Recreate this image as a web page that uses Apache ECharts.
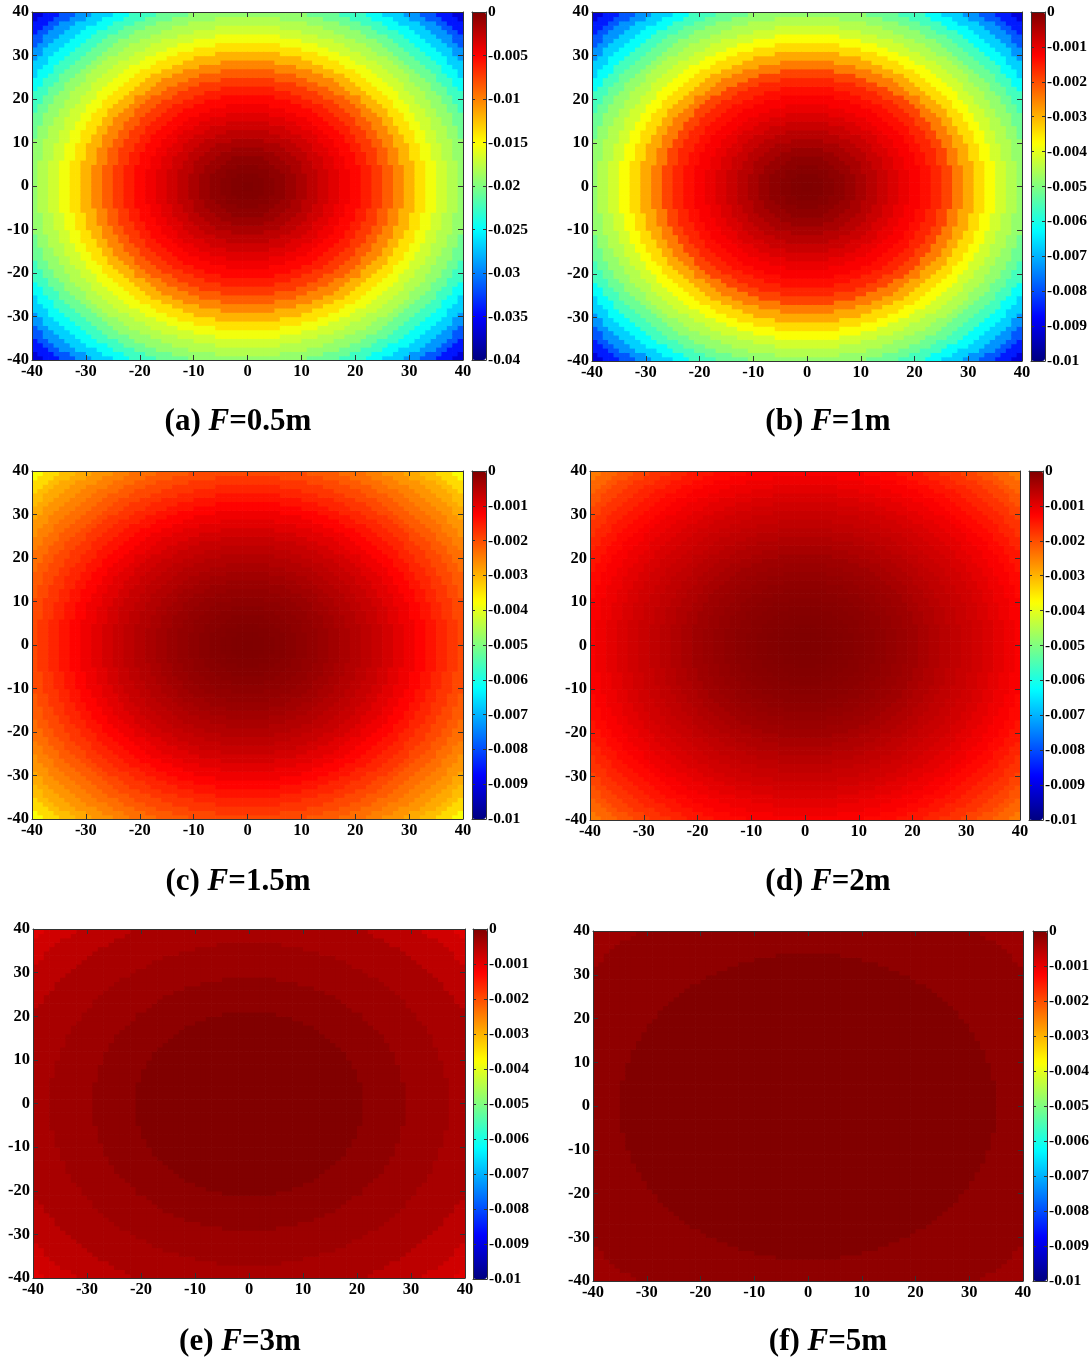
<!DOCTYPE html>
<html>
<head>
<meta charset="utf-8">
<script src="https://cdn.jsdelivr.net/npm/echarts@6/dist/echarts.min.js"></script>
<style>
html,body{margin:0;padding:0;background:#ffffff;}
#chart{width:1092px;height:1361px;}
</style>
</head>
<body>
<div id="chart"></div>
<script>
// ---------------- DATA ----------------
// Each field is rotationally symmetric about (0,0): value read along the radius r.
const radii = [0,2,4,6,8,10,12,14,16,18,20,22,24,26,28,30,32,34,36,38,40,42,44,46,48,50,52,54,56];

// (a) F=0.5m
const profileA = [0,-0.0001,-0.0003,-0.0006,-0.0011,-0.0017,-0.0024,-0.0031,-0.0038,-0.0045,
  -0.0052,-0.0061,-0.0072,-0.0086,-0.0102,-0.012,-0.0138,-0.0155,-0.0169,-0.018,
  -0.0192,-0.0208,-0.0226,-0.0247,-0.0268,-0.0291,-0.0316,-0.0342,-0.0365];
// (b) F=1m
const profileB = [0,-0.00002,-0.00007,-0.00014,-0.00025,-0.00039,-0.00055,-0.00072,-0.00089,-0.00105,
  -0.0012,-0.00138,-0.0016,-0.0019,-0.00245,-0.0029,-0.0034,-0.0038,-0.0042,-0.0045,
  -0.0048,-0.0052,-0.0056,-0.0062,-0.0067,-0.0073,-0.0079,-0.0085,-0.0091];
// (c) F=1.5m
const profileC = [0,-0.00001,-0.00003,-0.00006,-0.0001,-0.00015,-0.0002,-0.00026,-0.00033,-0.00041,
  -0.0005,-0.0006,-0.0007,-0.00082,-0.00096,-0.0011,-0.00127,-0.00143,-0.0016,-0.00177,
  -0.00195,-0.00213,-0.00232,-0.0025,-0.0027,-0.0029,-0.0031,-0.0034,-0.0038];
// (d) F=2m
const profileD = [0,-0.00001,-0.00002,-0.00004,-0.00006,-0.00009,-0.00012,-0.00016,-0.00021,-0.00026,
  -0.00031,-0.00039,-0.00047,-0.00055,-0.00063,-0.00071,-0.00079,-0.00088,-0.00098,-0.00109,
  -0.0012,-0.00132,-0.00145,-0.00159,-0.00174,-0.0019,-0.00207,-0.00225,-0.00245];
// (e) F=3m (banded)
const profileE = [-0.00001,-0.00001,-0.00001,-0.00001,-0.00001,-0.00001,-0.00001,-0.00001,-0.00001,-0.00001,
  -0.00001,-0.00014,-0.00014,-0.00014,-0.00014,-0.00028,-0.00028,-0.00028,-0.00028,-0.00039,
  -0.00039,-0.00039,-0.00039,-0.00059,-0.00059,-0.00059,-0.00079,-0.00079,-0.00094];
// (f) F=5m (banded)
const profileF = [-0.00001,-0.00001,-0.00001,-0.00001,-0.00001,-0.00001,-0.00001,-0.00001,-0.00001,-0.00001,
  -0.00001,-0.00001,-0.00001,-0.00001,-0.00001,-0.00001,-0.00001,-0.00001,-0.00015,-0.00015,
  -0.00015,-0.00015,-0.00015,-0.00015,-0.00015,-0.00015,-0.0003,-0.0003,-0.0003];

const profiles = [profileA, profileB, profileC, profileD, profileE, profileF];

const panelLabels = ['(a) ', '(b) ', '(c) ', '(d) ', '(e) ', '(f) '];
const panelSymbol = 'F';
const panelValues = ['=0.5m', '=1m', '=1.5m', '=2m', '=3m', '=5m'];

const colorbarMin = [-0.04, -0.01, -0.01, -0.01, -0.01, -0.01];
const colorbarMax = [0, 0, 0, 0, 0, 0];
const colorbarStep = [0.005, 0.001, 0.001, 0.001, 0.001, 0.001];

const axisMin = -40, axisMax = 40, axisStep = 10;
const cellSize = 1;

// ---------------- STYLE / LAYOUT ----------------
const JET = ['#000080','#0000FF','#0080FF','#00FFFF','#80FF80','#FFFF00','#FF8000','#FF0000','#800000'];
const FONT = "'Liberation Serif','Times New Roman',serif";
const LINE = '#333333';

const layout = [
  {plot:{l:32,t:12,w:431,h:348},  cb:{l:472,t:12,w:14,h:348},  cap:[238,422]},
  {plot:{l:592,t:12,w:430,h:349}, cb:{l:1031,t:12,w:14,h:349}, cap:[828,422]},
  {plot:{l:32,t:471,w:431,h:348}, cb:{l:472,t:471,w:14,h:348}, cap:[238,882]},
  {plot:{l:590,t:471,w:430,h:349},cb:{l:1029,t:471,w:14,h:349},cap:[828,882]},
  {plot:{l:33,t:929,w:432,h:349}, cb:{l:473,t:929,w:14,h:350}, cap:[240,1342]},
  {plot:{l:593,t:931,w:430,h:350},cb:{l:1033,t:931,w:14,h:350},cap:[828,1342]}
];

// Build cell table [x, y, value] from a radial profile (lookup of the nearest read radius)
function buildCells(profile) {
  const data = [];
  const dr = radii[1] - radii[0];
  for (let x = axisMin + cellSize / 2; x < axisMax; x += cellSize) {
    for (let y = axisMin + cellSize / 2; y < axisMax; y += cellSize) {
      const r = Math.sqrt(x * x + y * y);
      const k = Math.min(profile.length - 1, Math.round(r / dr));
      data.push([x, y, profile[k]]);
    }
  }
  return data;
}

function renderCell(params, api) {
  const x = api.value(0), y = api.value(1);
  const h = cellSize / 2;
  const p0 = api.coord([x - h, y + h]);
  const p1 = api.coord([x + h, y - h]);
  return {
    type: 'rect',
    shape: {x: p0[0], y: p0[1], width: p1[0] - p0[0] + 0.7, height: p1[1] - p0[1] + 0.7},
    style: {fill: api.visual('color')}
  };
}

const labelStyle = (size) => ({fontFamily: FONT, fontWeight: 'bold', fontSize: size, color: '#000'});

function plotAxis(gi, pos, showLabel) {
  return {
    type: 'value', gridIndex: gi, position: pos, min: axisMin, max: axisMax, interval: axisStep, z: 10,
    axisLine: {show: true, onZero: false, lineStyle: {color: LINE, width: 1}},
    axisTick: {show: true, inside: true, length: 5, lineStyle: {color: LINE}},
    axisLabel: Object.assign({show: showLabel, margin: 3, showMinLabel: true, showMaxLabel: true}, labelStyle(16.5)),
    splitLine: {show: false}
  };
}
function cbYAxis(gi, pos, showLabel, p) {
  return {
    type: 'value', gridIndex: gi, position: pos, min: colorbarMin[p], max: colorbarMax[p], interval: colorbarStep[p], z: 10,
    axisLine: {show: true, onZero: false, lineStyle: {color: LINE, width: 1}},
    axisTick: {show: true, inside: true, length: 3, lineStyle: {color: LINE}},
    axisLabel: Object.assign({show: showLabel, margin: 2, showMinLabel: true, showMaxLabel: true}, labelStyle(15.5)),
    splitLine: {show: false}
  };
}
function cbXAxis(gi, pos) {
  return {
    type: 'value', gridIndex: gi, position: pos, min: 0, max: 1, z: 10,
    axisLine: {show: true, onZero: false, lineStyle: {color: LINE, width: 1}},
    axisTick: {show: false}, axisLabel: {show: false}, splitLine: {show: false}
  };
}

const grids = [], xAxes = [], yAxes = [], series = [], visualMaps = [], graphics = [];

layout.forEach((L, p) => {
  const gPlot = grids.length;
  grids.push({left: L.plot.l, top: L.plot.t, width: L.plot.w, height: L.plot.h, outerBoundsMode: 'none', containLabel: false});
  const gCb = grids.length;
  grids.push({left: L.cb.l, top: L.cb.t, width: L.cb.w, height: L.cb.h, outerBoundsMode: 'none', containLabel: false});

  const xi = xAxes.length;
  xAxes.push(plotAxis(gPlot, 'bottom', true));
  xAxes.push(plotAxis(gPlot, 'top', false));
  xAxes.push(cbXAxis(gCb, 'bottom'));
  xAxes.push(cbXAxis(gCb, 'top'));

  const yi = yAxes.length;
  yAxes.push(plotAxis(gPlot, 'left', true));
  yAxes.push(plotAxis(gPlot, 'right', false));
  yAxes.push(cbYAxis(gCb, 'right', true, p));
  yAxes.push(cbYAxis(gCb, 'left', false, p));

  series.push({
    type: 'custom', name: 'panel' + p, xAxisIndex: xi, yAxisIndex: yi,
    renderItem: renderCell, data: buildCells(profiles[p]),
    encode: {x: 0, y: 1}, clip: true, silent: true, animation: false, progressive: 0
  });

  visualMaps.push({
    type: 'continuous', seriesIndex: p, dimension: 2,
    min: colorbarMin[p], max: colorbarMax[p],
    inRange: {color: JET}, calculable: false, show: true, hoverLink: false,
    left: L.cb.l, top: L.cb.t, itemWidth: L.cb.w, itemHeight: L.cb.h, padding: 0,
    orient: 'vertical', z: 4
  });

  graphics.push({
    type: 'text', x: L.cap[0], y: L.cap[1],
    style: {
      text: '{n|' + panelLabels[p] + '}{i|' + panelSymbol + '}{n|' + panelValues[p] + '}',
      align: 'center', verticalAlign: 'middle',
      rich: {
        n: {fontFamily: FONT, fontWeight: 'bold', fontSize: 31, fill: '#000'},
        i: {fontFamily: FONT, fontWeight: 'bold', fontStyle: 'italic', fontSize: 31, fill: '#000'}
      }
    }
  });
});

const chart = echarts.init(document.getElementById('chart'), null, {renderer: 'canvas'});
chart.setOption({
  animation: false,
  backgroundColor: '#ffffff',
  grid: grids,
  xAxis: xAxes,
  yAxis: yAxes,
  visualMap: visualMaps,
  series: series,
  graphic: graphics
});
</script>
</body>
</html>
